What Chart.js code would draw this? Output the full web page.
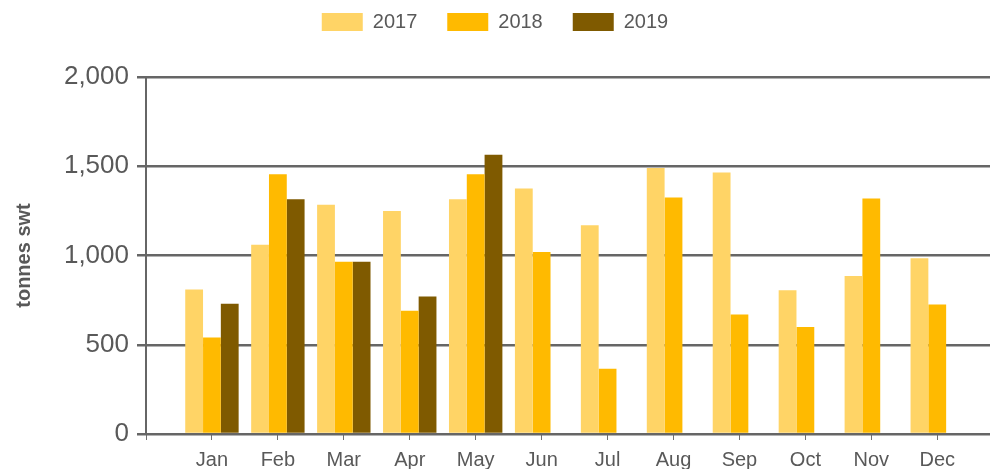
<!DOCTYPE html>
<html>
<head>
<meta charset="utf-8">
<script src="https://cdn.jsdelivr.net/npm/chart.js@4.4.1/dist/chart.umd.min.js"></script>
<style>
  html, body { margin: 0; padding: 0; background: #ffffff; overflow: hidden; }
  #wrap { width: 990px; height: 469px; position: relative; }
</style>
</head>
<body>
<div id="wrap"><canvas id="c" width="990" height="469"></canvas></div>
<script>
const categories = ['Jan','Feb','Mar','Apr','May','Jun','Jul','Aug','Sep','Oct','Nov','Dec'];
const seriesNames = ['2017','2018','2019'];
const values2017 = [810, 1060, 1285, 1250, 1315, 1375, 1170, 1490, 1465, 805, 885, 985];
const values2018 = [540, 1455, 965, 690, 1455, 1020, 365, 1325, 670, 600, 1320, 725];
const values2019 = [730, 1315, 965, 770, 1565, null, null, null, null, null, null, null];
const yTicks = [0, 500, 1000, 1500, 2000];
const colors = ['#FFD466', '#FFBA00', '#7F5A00'];

const positions = categories.map((c, i) => i + 1);

const layoutPlugin = {
  id: 'layoutTweak',
  afterInit(chart) {
    const lg = chart.legend;
    const origFit = lg.fit;
    lg.fit = function () { origFit.call(this); this.height = 77; };
    const origDraw = lg.draw;
    lg.draw = function (area) {
      const ctx = this.ctx;
      ctx.save();
      ctx.translate(0, -18);
      origDraw.call(this, area);
      ctx.restore();
    };
  }
};

new Chart(document.getElementById('c'), {
  type: 'bar',
  data: {
    labels: positions,
    datasets: [values2017, values2018, values2019].map((d, i) => ({
      label: seriesNames[i],
      data: d,
      backgroundColor: colors[i],
      borderWidth: 0,
      categoryPercentage: 0.81,
      barPercentage: 1.0
    }))
  },
  plugins: [layoutPlugin],
  options: {
    responsive: false,
    animation: false,
    layout: { padding: { left: 0, right: 0, top: 0, bottom: 0 } },
    plugins: {
      legend: {
        position: 'top',
        align: 'center',
        labels: {
          boxWidth: 41,
          boxHeight: 18,
          padding: 30,
          color: '#595959',
          font: { family: 'Liberation Sans, Arial, sans-serif', size: 20 }
        }
      },
      tooltip: { enabled: false }
    },
    scales: {
      x: {
        type: 'linear',
        min: 0,
        max: 12.8,
        offset: false,
        afterBuildTicks(scale) {
          scale.ticks = [0].concat(positions).map(v => ({ value: v }));
        },
        afterFit(scale) { scale.height = 35; },
        ticks: {
          autoSkip: false,
          maxRotation: 0,
          padding: 8,
          color: '#595959',
          font: { family: 'Liberation Sans, Arial, sans-serif', size: 20 },
          callback(v) { return v >= 1 && v <= categories.length ? categories[v - 1] : ''; }
        },
        grid: {
          offset: false,
          drawOnChartArea: false,
          drawTicks: true,
          tickLength: 6,
          color: '#707070',
          lineWidth: 1
        },
        border: { display: true, color: '#666666', width: 2 }
      },
      y: {
        min: 0,
        max: 2000,
        afterBuildTicks(scale) {
          scale.ticks = yTicks.map(v => ({ value: v }));
        },
        afterFit(scale) { scale.width = 146; },
        ticks: {
          padding: 8,
          color: '#595959',
          font: { family: 'Liberation Sans, Arial, sans-serif', size: 26 }
        },
        title: {
          display: true,
          text: 'tonnes swt',
          color: '#595959',
          padding: { top: 12, bottom: 0 },
          font: { family: 'Liberation Sans, Arial, sans-serif', size: 20, weight: 'bold' }
        },
        grid: {
          color: '#666666',
          lineWidth: 2.5,
          tickLength: 9,
          drawTicks: true
        },
        border: { display: true, color: '#666666', width: 2 }
      }
    }
  }
});
</script>
</body>
</html>
